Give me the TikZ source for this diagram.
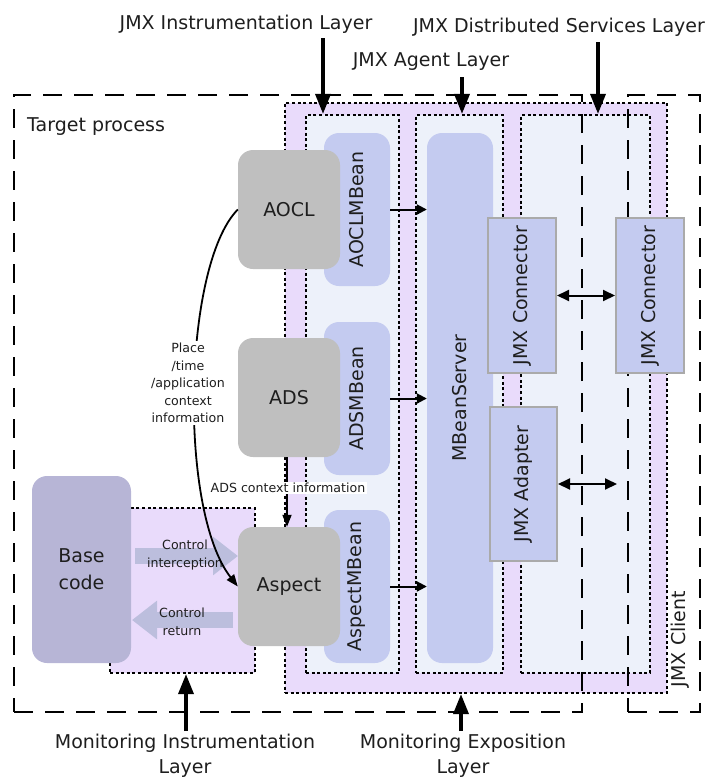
\documentclass[tikz,border=0pt]{standalone}
\usepackage{fontspec}
\usepackage{graphicx}
\setmainfont{DejaVu Sans}
\usetikzlibrary{arrows.meta}

\definecolor{layerpurple}{RGB}{233,219,251}
\definecolor{layerblue}{RGB}{237,241,250}
\definecolor{mbeanblue}{RGB}{196,203,240}
\definecolor{compgray}{RGB}{191,191,191}
\definecolor{basepurple}{RGB}{183,181,214}
\definecolor{flowfill}{RGB}{188,190,221}
\definecolor{edgegray}{RGB}{170,170,170}
\definecolor{inkdark}{RGB}{30,30,30}

\begin{document}
\begin{tikzpicture}[x=1pt,y=-1pt,
  bigfont/.style={font=\fontsize{19}{25}\selectfont},
  smallfont/.style={font=\fontsize{12.6}{17.5}\selectfont},
  every node/.style={inner sep=0pt, text=inkdark},
  procframe/.style={draw=black, line width=2.5pt, dash pattern=on 19pt off 12pt},
  dotframe/.style={draw=black, line width=2.2pt, dash pattern=on 3pt off 2.6pt},
  purplelayer/.style={dotframe, fill=layerpurple},
  bluelayer/.style={dotframe, fill=layerblue},
  mbean/.style={fill=mbeanblue, rounded corners=15pt, bigfont},
  comp/.style={fill=compgray, rounded corners=15pt, bigfont},
  plainbox/.style={fill=mbeanblue, draw=edgegray, line width=2pt, bigfont},
  layerarrow/.style={line width=3.5pt, -{Triangle[length=20pt,width=15pt]}},
  smallarrow/.style={line width=2pt, -{Triangle[length=10pt,width=10pt]}},
  twoway/.style={line width=2pt, {Triangle[length=12pt,width=11pt]}-{Triangle[length=12pt,width=11pt]}},
  thinarrow/.style={line width=1.8pt, -{Triangle[length=12pt,width=9pt]}},
  flowarrow/.style={draw=flowfill, line width=16pt, -{Triangle[length=25pt,width=37pt]}},
  textlabel/.style={fill=white, align=center, smallfont, inner sep=2pt}
]
\useasboundingbox (0,0) rectangle (709,780);

% monitoring exposition layer and the three JMX layers inside it
\node[purplelayer, minimum width=382, minimum height=590] (mexp) at (476,398) {};
\node[bluelayer, minimum width=93, minimum height=558] (instr) at (352.5,394) {};
\node[bluelayer, minimum width=87, minimum height=558] (agent) at (459.5,394) {};
\node[bluelayer, minimum width=129, minimum height=558] (dist) at (585.5,394) {};

% process boundaries
\node[procframe, minimum width=568, minimum height=617] (target) at (298,403.5) {};
\node[procframe, minimum width=72, minimum height=617] (client) at (664,403.5) {};
\node[bigfont, anchor=west] (targetlbl) at (27,127) {Target process};
\node[bigfont] (clientlbl) at (680,639) {\rotatebox{90}{JMX Client}};

% monitoring instrumentation layer
\node[purplelayer, minimum width=145, minimum height=165] (minst) at (182.5,590.5) {};

% MBeans, server, connectors
\node[mbean, minimum width=66, minimum height=153] (aoclmb) at (357,209.5) {\rotatebox{90}{AOCLMBean}};
\node[mbean, minimum width=66, minimum height=153] (adsmb) at (357,398.5) {\rotatebox{90}{ADSMBean}};
\node[mbean, minimum width=66, minimum height=153] (aspmb) at (357,586.5) {\rotatebox{90}{AspectMBean}};
\node[mbean, minimum width=66, minimum height=530] (mbs) at (460,398) {\rotatebox{90}{MBeanServer}};
\node[plainbox, minimum width=68, minimum height=155] (conn1) at (522,295.5) {\rotatebox{90}{JMX Connector}};
\node[plainbox, minimum width=67, minimum height=154] (adapter) at (523.5,484) {\rotatebox{90}{JMX Adapter}};
\node[plainbox, minimum width=68, minimum height=155] (conn2) at (650,295.5) {\rotatebox{90}{JMX Connector}};

% control flow between base code and aspect
\coordinate (ciStart) at (135,556);
\coordinate (crStart) at (233,620);
\draw[flowarrow] (ciStart) -- (ciStart -| 238,0);
\draw[flowarrow] (crStart) -- (crStart -| 132,0);

% base code and monitoring components
\node[fill=basepurple, rounded corners=15pt, font=\fontsize{19}{27}\selectfont, align=center, minimum width=99, minimum height=187] (base) at (81.5,569.5) {Base\\code};
\node[comp, minimum width=102, minimum height=119] (aocl) at (289,209.5) {AOCL};
\node[comp, minimum width=102, minimum height=119] (ads) at (289,397.5) {ADS};
\node[comp, minimum width=102, minimum height=119] (aspect) at (289,586.5) {Aspect};

\node[smallfont, align=center] (cilbl) at (185,555) {Control\\interception};
\node[smallfont, align=center] (crlbl) at (182,622) {Control\\return};

% registrations with the MBean server
\draw[smallarrow] (aoclmb.east) -- (aoclmb.east -| mbs.west);
\draw[smallarrow] (adsmb.east) -- (adsmb.east -| mbs.west);
\draw[smallarrow] (aspmb.east) -- (aspmb.east -| mbs.west);

% connector and adapter links
\coordinate (adapterEnd) at (617,484);
\draw[twoway] (conn1.east) -- (conn2.west);
\draw[twoway] (adapter.east) -- (adapterEnd);

% context information passed to the aspect
\draw[thinarrow] (aocl.west) .. controls (183,265) and (178,510) .. (aspect.west);
\node[textlabel] (placelbl) at (188,383) {Place\\/time\\/application\\context\\information};
\draw[thinarrow] ([xshift=-2pt]ads.south) -- ([xshift=-2pt]aspect.north);
\node[textlabel, inner sep=1.5pt] (adslbl) at (288,488) {ADS context information};

% layer captions and pointers
\node[bigfont, anchor=base] (jmxinstr) at (246,29) {JMX Instrumentation Layer};
\node[bigfont, anchor=base] (jmxdist) at (559,32) {JMX Distributed Services Layer};
\node[bigfont, anchor=base] (jmxagent) at (431,66) {JMX Agent Layer};
\coordinate (pInstr) at (323,38);
\coordinate (pDist) at (598,42);
\coordinate (pAgent) at (462,77);
\draw[layerarrow] (pInstr) -- (pInstr |- instr.north);
\draw[layerarrow] (pAgent) -- (pAgent |- agent.north);
\draw[layerarrow] (pDist) -- (pDist |- dist.north);

\node[bigfont, align=center] (moninstr) at (185,756) {Monitoring Instrumentation\\Layer};
\node[bigfont, align=center] (monexp) at (463,756) {Monitoring Exposition\\Layer};
\coordinate (pMinst) at (186,731);
\coordinate (pMexp) at (461,731);
\draw[layerarrow] (pMinst) -- (pMinst |- minst.south);
\draw[layerarrow] (pMexp) -- (pMexp |- mexp.south);
\end{tikzpicture}
\end{document}
